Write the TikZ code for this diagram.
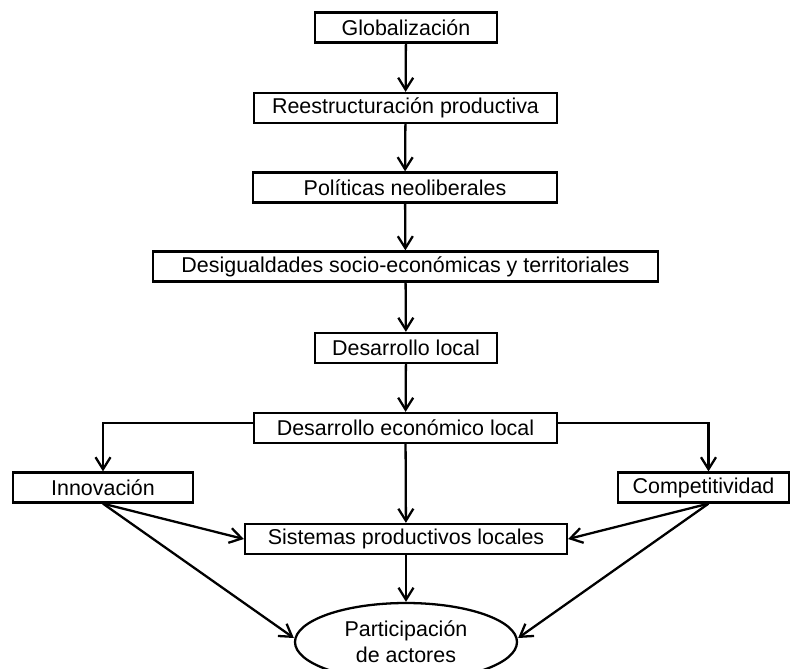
\documentclass[tikz,border=0pt]{standalone}
\usepackage{fontspec}
\setmainfont{Liberation Sans}
\usetikzlibrary{arrows.meta,shapes.geometric}

\begin{document}
\begin{tikzpicture}[x=0.2mm, y=-0.2mm, line width=1.3pt,
  caja/.style={draw, rectangle, minimum height=6mm, inner sep=0pt, font=\fontsize{12.2}{14.8}\selectfont},
  flecha/.style={-{Straight Barb[length=2.4mm, width=3mm]}}]
\useasboundingbox (0,0) rectangle (790,669); % page
\node[caja, minimum width=36.4mm] (glob) at (406,27.5) {Globalización};
\node[caja, minimum width=60.6mm] (rees) at (405.5,108) {Reestructuración productiva};
\node[caja, minimum width=60.8mm] (pol) at (405,187.5) {Políticas neoliberales};
\node[caja, minimum width=101mm] (des) at (405.5,266.5) {Desigualdades socio-económicas y territoriales};
\node[caja, minimum width=36.4mm] (loc) at (406,348) {Desarrollo local};
\node[caja, minimum width=60.6mm] (dec) at (405.5,428) {Desarrollo económico local};
\node[caja, minimum width=36mm] (inn) at (103,487.5) {Innovación};
\node[caja, minimum width=34.2mm] (comp) at (703.5,487.5) {Competitividad};
\node[caja, minimum width=64.4mm] (sis) at (406,539) {Sistemas productivos locales};
\node[draw, ellipse, minimum width=44.4mm, minimum height=15.6mm, inner sep=0pt, align=center,
  font=\fontsize{12.2}{14.8}\selectfont] (part) at (406,642) {Participación\\de actores};
% main chain
\draw[flecha] (glob) -- (rees);
\draw[flecha] (rees) -- (pol);
\draw[flecha] (pol) -- (des);
\draw[flecha] (des) -- (loc);
\draw[flecha] (loc) -- (dec);
\draw[flecha] (dec) -- (sis);
\draw[flecha] (sis) -- (part);
% branches
\draw[flecha] ([yshift=1mm]dec.west) -| (inn);
\draw[flecha] ([yshift=1mm]dec.east) -| ([xshift=1mm]comp.north);
\draw[flecha] (inn.south) -- (sis.west);
\draw[flecha] (inn.south) -- ([yshift=0.8mm]part.west);
\draw[flecha] ([xshift=1mm]comp.south) -- (sis.east);
\draw[flecha] ([xshift=1mm]comp.south) -- ([yshift=0.8mm]part.east);
\end{tikzpicture}
\end{document}
